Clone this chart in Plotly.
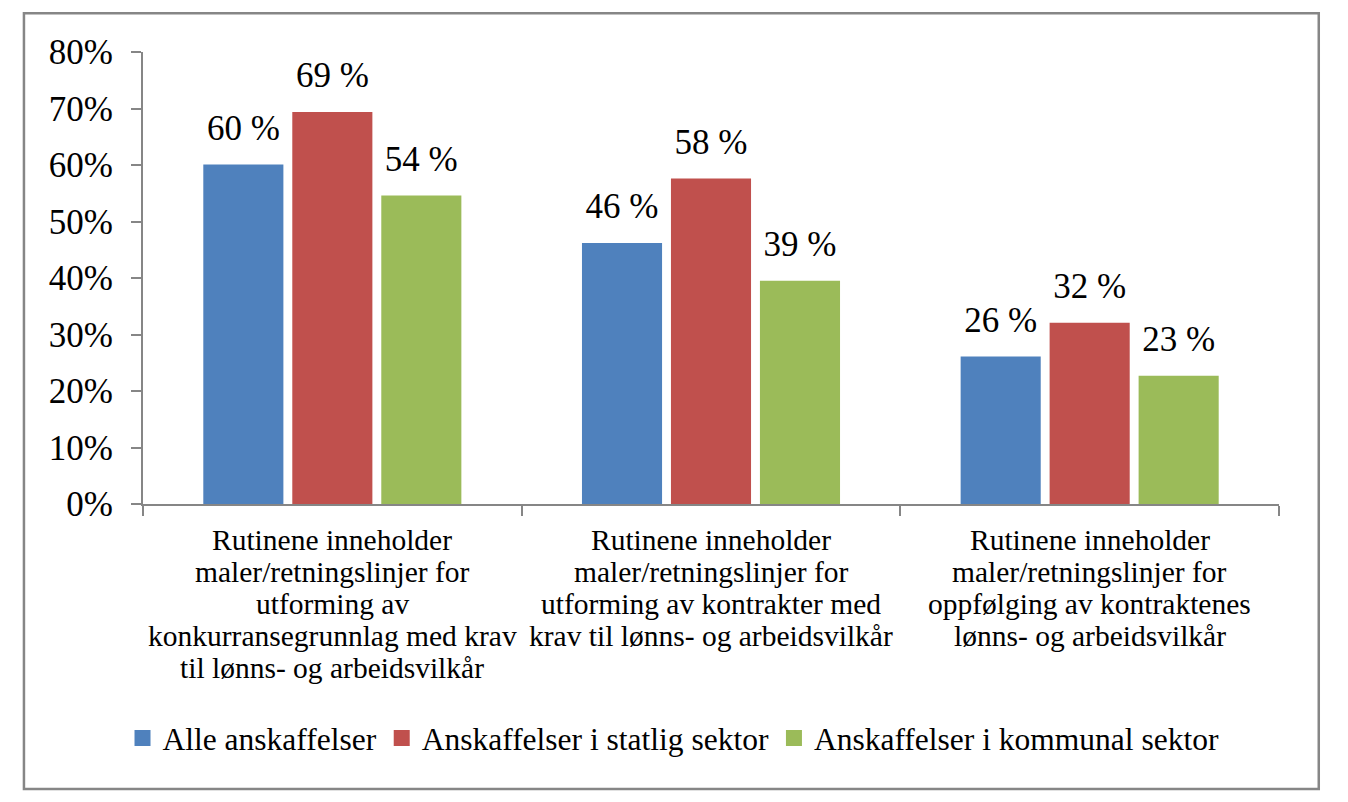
import plotly.graph_objects as go

categories = [
    "Rutinene inneholder\nmaler/retningslinjer for\nutforming av\nkonkurransegrunnlag med krav\ntil lønns- og arbeidsvilkår",
    "Rutinene inneholder\nmaler/retningslinjer for\nutforming av kontrakter med\nkrav til lønns- og arbeidsvilkår",
    "Rutinene inneholder\nmaler/retningslinjer for\noppfølging av kontraktenes\nlønns- og arbeidsvilkår",
]
series_names = ["Alle anskaffelser", "Anskaffelser i statlig sektor", "Anskaffelser i kommunal sektor"]
alle_vals = [60.1, 46.2, 26.1]
statlig_vals = [69.4, 57.6, 32.1]
kommunal_vals = [54.6, 39.5, 22.7]
alle_text = ["60 %", "46 %", "26 %"]
statlig_text = ["69 %", "58 %", "32 %"]
kommunal_text = ["54 %", "39 %", "23 %"]
y_ticks = [0, 10, 20, 30, 40, 50, 60, 70, 80]
colors = ["#4F81BD", "#C0504D", "#9BBB59"]

FONT = "Liberation Serif"
GRAY = "#868686"

series_vals = [alle_vals, statlig_vals, kommunal_vals]
series_text = [alle_text, statlig_text, kommunal_text]

fig = go.Figure()
for i, (name, vals, col) in enumerate(zip(series_names, series_vals, colors)):
    fig.add_trace(go.Bar(x=categories, y=vals, name=name, offsetgroup=f"g{i}",
                         marker=dict(color=col, line=dict(width=0)),
                         showlegend=False, hoverinfo="skip"))

for i, (vals, txt) in enumerate(zip(series_vals, series_text)):
    fig.add_trace(go.Scatter(x=categories, y=vals, text=txt, mode="markers+text",
                             textposition="top center", offsetgroup=f"g{i}",
                             marker=dict(size=24, opacity=0),
                             textfont=dict(family=FONT, size=35, color="black"),
                             showlegend=False, hoverinfo="skip"))

# legend entries (square swatches)
for i, (name, col) in enumerate(zip(series_names, colors)):
    fig.add_trace(go.Scatter(x=[categories[0]], y=[None], name=name, mode="markers",
                             offsetgroup=f"g{i}",
                             marker=dict(symbol="square", size=17, color=col),
                             showlegend=True, hoverinfo="skip"))

for cat in categories:
    for j, line in enumerate(cat.split("\n")):
        fig.add_annotation(x=cat, xref="x", y=0, yref="paper", yanchor="middle",
                           yshift=-(36 + 32 * j), text=line, showarrow=False,
                           font=dict(family=FONT, size=29.5, color="black"))

fig.add_shape(type="rect", xref="paper", yref="paper", x0=-0.1048, x1=1.035, y0=-0.6305, y1=1.086,
              line=dict(color=GRAY, width=2.5), fillcolor="rgba(0,0,0,0)", layer="below")

fig.update_layout(
    width=1340, height=794,
    margin=dict(l=135, r=69, t=44, b=298),
    paper_bgcolor="white", plot_bgcolor="white",
    barmode="group", bargap=0.295, bargroupgap=0.1,
    scattermode="group", scattergap=0.295,
    font=dict(family=FONT, color="black"),
    legend=dict(orientation="h", x=0.467, xanchor="center", y=-0.518, yanchor="middle",
                font=dict(family=FONT, size=31.5, color="black"), traceorder="normal",
                itemsizing="trace"),
    xaxis=dict(showline=True, linecolor=GRAY, linewidth=2, ticks="outside", tickson="boundaries",
               ticklen=10, tickwidth=2, tickcolor=GRAY, showticklabels=False, showgrid=False,
               zeroline=False),
    yaxis=dict(range=[0, 80], tickvals=y_ticks, ticktext=[f"{v}%" for v in y_ticks],
               showline=True, linecolor=GRAY, linewidth=2, ticks="outside", ticklen=10,
               tickwidth=2, tickcolor=GRAY, showgrid=False, zeroline=False,
               tickfont=dict(family=FONT, size=35, color="black"), ticklabelstandoff=11),
)

fig.write_html("out.html")
